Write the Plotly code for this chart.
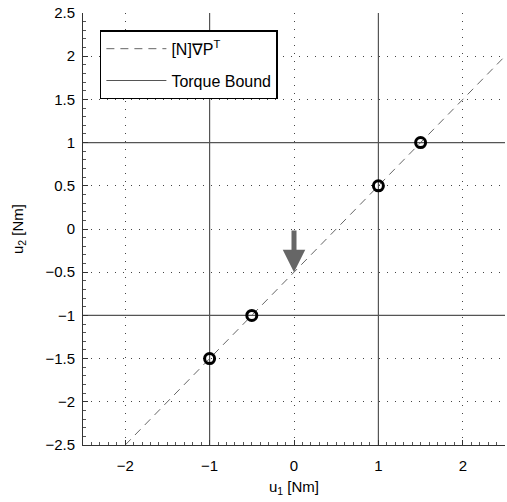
import plotly.graph_objects as go

# Control plane: reference direction through the feasible box
line_u1 = [-2.0, 2.5]
line_u2 = [-2.5, 2.0]

# Candidate control points lying on the line
pts_u1 = [-1.0, -0.5, 1.0, 1.5]
pts_u2 = [-1.5, -1.0, 0.5, 1.0]

# Torque limits on each input (symmetric)
bound_lo = -1.0
bound_hi = 1.0
axis_lo = -2.5
axis_hi = 2.5

# Descent direction arrow
arrow_start = (0.0, 0.0)
arrow_end = (0.0, -0.5)

FONT = "Liberation Sans, Arial, Helvetica, sans-serif"

fig = go.Figure()

fig.add_trace(go.Scatter(
    x=line_u1, y=line_u2, mode="lines",
    line=dict(color="#666666", width=1, dash="8px,6px"),
    name="[N]\u2207P<sup>T</sup>", legendgroup="dir",
))

bx = [bound_lo, bound_lo, None, bound_hi, bound_hi, None,
      axis_lo, axis_hi, None, axis_lo, axis_hi]
by = [axis_lo, axis_hi, None, axis_lo, axis_hi, None,
      bound_lo, bound_lo, None, bound_hi, bound_hi]
fig.add_trace(go.Scatter(
    x=bx, y=by, mode="lines",
    line=dict(color="#555555", width=1.2),
    name="Torque Bound", legendgroup="bound",
))

fig.add_trace(go.Scatter(
    x=pts_u1, y=pts_u2, mode="markers",
    marker=dict(symbol="circle-open", size=10, color="black",
                line=dict(color="black", width=3)),
    showlegend=False,
))

fig.add_annotation(
    x=arrow_end[0], y=arrow_end[1], ax=arrow_start[0], ay=arrow_start[1],
    xref="x", yref="y", axref="x", ayref="y",
    text="", showarrow=True, arrowhead=2, arrowsize=0.9,
    arrowwidth=5, arrowcolor="#666666", standoff=0,
)

axis_common = dict(
    showline=True, linecolor="#333333", linewidth=1, mirror=False,
    ticks="inside", ticklen=5, tickcolor="#333333",
    showgrid=True, gridcolor="#444444", griddash="1px,7px", gridwidth=1,
    zeroline=False,
    tickfont=dict(family=FONT, size=15, color="black"),
    minor=dict(dtick=0.1, ticks="inside", ticklen=3, tickcolor="#555555",
               showgrid=False),
)

fig.update_xaxes(
    range=[axis_lo, axis_hi], dtick=1, tick0=0,
    ticklabelstandoff=7,
    title=dict(text="u<sub>1</sub> [Nm]", standoff=8,
               font=dict(family=FONT, size=15, color="black")),
    **axis_common,
)
fig.update_yaxes(
    range=[axis_lo, axis_hi], dtick=0.5, tick0=0,
    ticklabelstandoff=4,
    title=dict(text="u<sub>2</sub> [Nm]", standoff=18,
               font=dict(family=FONT, size=15, color="black")),
    **axis_common,
)

fig.update_layout(
    width=507, height=502,
    margin=dict(l=83, r=2, t=13, b=57),
    plot_bgcolor="white", paper_bgcolor="white",
    font=dict(family=FONT, size=15, color="black"),
    legend=dict(
        x=0.04, y=0.96, xanchor="left", yanchor="top",
        bgcolor="white", bordercolor="black", borderwidth=1.5,
        font=dict(family=FONT, size=16, color="black"),
        itemwidth=60, traceorder="grouped", tracegroupgap=8,
    ),
)

fig.write_html("out.html")
